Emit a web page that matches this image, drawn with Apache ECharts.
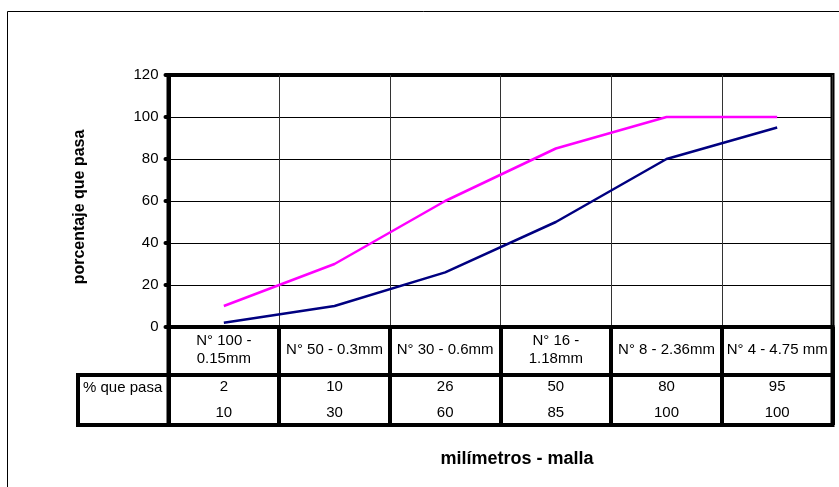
<!DOCTYPE html>
<html>
<head>
<meta charset="utf-8">
<script src="https://cdn.jsdelivr.net/npm/echarts@6/dist/echarts.min.js"></script>
<style>html,body{margin:0;padding:0;background:#fff}#c{width:839px;height:487px}</style>
</head>
<body>
<div id="c"></div>
<script>
var categories = ['N° 100 -\n0.15mm', 'N° 50 - 0.3mm', 'N° 30 - 0.6mm', 'N° 16 -\n1.18mm', 'N° 8 - 2.36mm', 'N° 4 - 4.75 mm'];
var seriesNavyName = '% que pasa';
var seriesNavy = [2, 10, 26, 50, 80, 95];
var seriesMagentaName = '';
var seriesMagenta = [10, 30, 60, 85, 100, 100];
var yTicks = [0, 20, 40, 60, 80, 100, 120];
var yTitle = 'porcentaje que pasa';
var xTitle = 'milímetros - malla';

var GL = 168.5, GW = 664, GT = 75, GH = 252, TB1 = 375, TB2 = 425, TLEFT = 78;
var FONT = 'Liberation Sans, Arial, sans-serif';

var chart = echarts.init(document.getElementById('c'), null, {renderer: 'canvas'});
var option = {
  backgroundColor: '#fff',
  animation: false,
  grid: [
    {left: GL, top: GT, width: GW, height: GH, show: true, borderColor: '#000', borderWidth: 4, backgroundColor: 'transparent'},
    {left: GL, top: GT + GH, width: GW, height: TB2 - GT - GH, show: true, borderColor: '#000', borderWidth: 4, backgroundColor: 'transparent'}
  ],
  xAxis: [
    {
      type: 'category', gridIndex: 0, data: categories, boundaryGap: true,
      axisLine: {show: true, lineStyle: {color: '#000', width: 4}},
      axisTick: {show: false},
      splitLine: {show: true, lineStyle: {color: '#333', width: 1}},
      axisLabel: {show: true, interval: 0, margin: 23, verticalAlign: 'middle', lineHeight: 18, fontSize: 15, color: '#000', fontFamily: FONT, align: 'center'}
    },
    {
      type: 'category', gridIndex: 0, data: seriesNavy.map(function (v, i) { return String(i); }), boundaryGap: true,
      position: 'bottom',
      axisLine: {show: false}, axisTick: {show: false}, splitLine: {show: false},
      axisLabel: {show: true, interval: 0, margin: 73, verticalAlign: 'middle', lineHeight: 26, fontSize: 15, color: '#000', fontFamily: FONT,
        formatter: function (v, i) { return seriesNavy[i] + '\n' + seriesMagenta[i]; }}
    },
    {
      type: 'category', gridIndex: 1, data: categories, boundaryGap: true,
      axisLine: {show: false}, axisTick: {show: false}, axisLabel: {show: false},
      splitLine: {show: true, lineStyle: {color: '#000', width: 4}}
    }
  ],
  yAxis: [
    {
      type: 'value', gridIndex: 0, min: 0, max: 120, interval: 20,
      axisLine: {show: true, lineStyle: {color: '#000', width: 4}},
      axisTick: {show: true, length: 3, lineStyle: {color: '#000', width: 4, cap: 'round'}},
      splitLine: {show: true, lineStyle: {color: '#000', width: 1}},
      axisLabel: {color: '#000', fontSize: 15, fontFamily: FONT, margin: 10,
        formatter: function (v) { return yTicks.indexOf(v) >= 0 ? String(v) : ''; }}
    },
    {
      type: 'value', gridIndex: 1, show: false
    }
  ],
  series: [
    {
      name: seriesNavyName, type: 'line', xAxisIndex: 0, yAxisIndex: 0, data: seriesNavy,
      showSymbol: false, symbol: 'none', lineStyle: {color: '#000080', width: 2.5}, itemStyle: {color: '#000080'}, z: 3
    },
    {
      name: seriesMagentaName, type: 'line', xAxisIndex: 0, yAxisIndex: 0, data: seriesMagenta,
      showSymbol: false, symbol: 'none', lineStyle: {color: '#FF00FF', width: 2.5}, itemStyle: {color: '#FF00FF'}, z: 3
    }
  ],
  graphic: [
    {type: 'rect', shape: {x: 7.5, y: 11.5, width: 1200, height: 700}, style: {fill: 'none', stroke: '#000', lineWidth: 1}, silent: true, z: 0},
    {type: 'line', shape: {x1: TLEFT, y1: TB1, x2: GL + GW, y2: TB1}, style: {stroke: '#000', lineWidth: 4}, z: 10},
    {type: 'polyline', shape: {points: [[GL, TB1], [TLEFT, TB1], [TLEFT, TB2], [GL, TB2]]}, style: {stroke: '#000', lineWidth: 4, fill: 'none'}, z: 10},
    {type: 'text', left: 83, top: 380, style: {text: seriesNavyName, fontSize: 15, fontFamily: FONT, fill: '#000'}, z: 10},
    {type: 'text', x: 80, y: 207, rotation: Math.PI / 2, style: {text: yTitle, fontSize: 16, fontWeight: 'bold', fontFamily: FONT, fill: '#000', align: 'center', verticalAlign: 'middle'}, z: 10},
    {type: 'text', x: 517, y: 459, style: {text: xTitle, fontSize: 18, fontWeight: 'bold', fontFamily: FONT, fill: '#000', align: 'center', verticalAlign: 'middle'}, z: 10}
  ]
};
chart.setOption(option);
</script>
</body>
</html>
